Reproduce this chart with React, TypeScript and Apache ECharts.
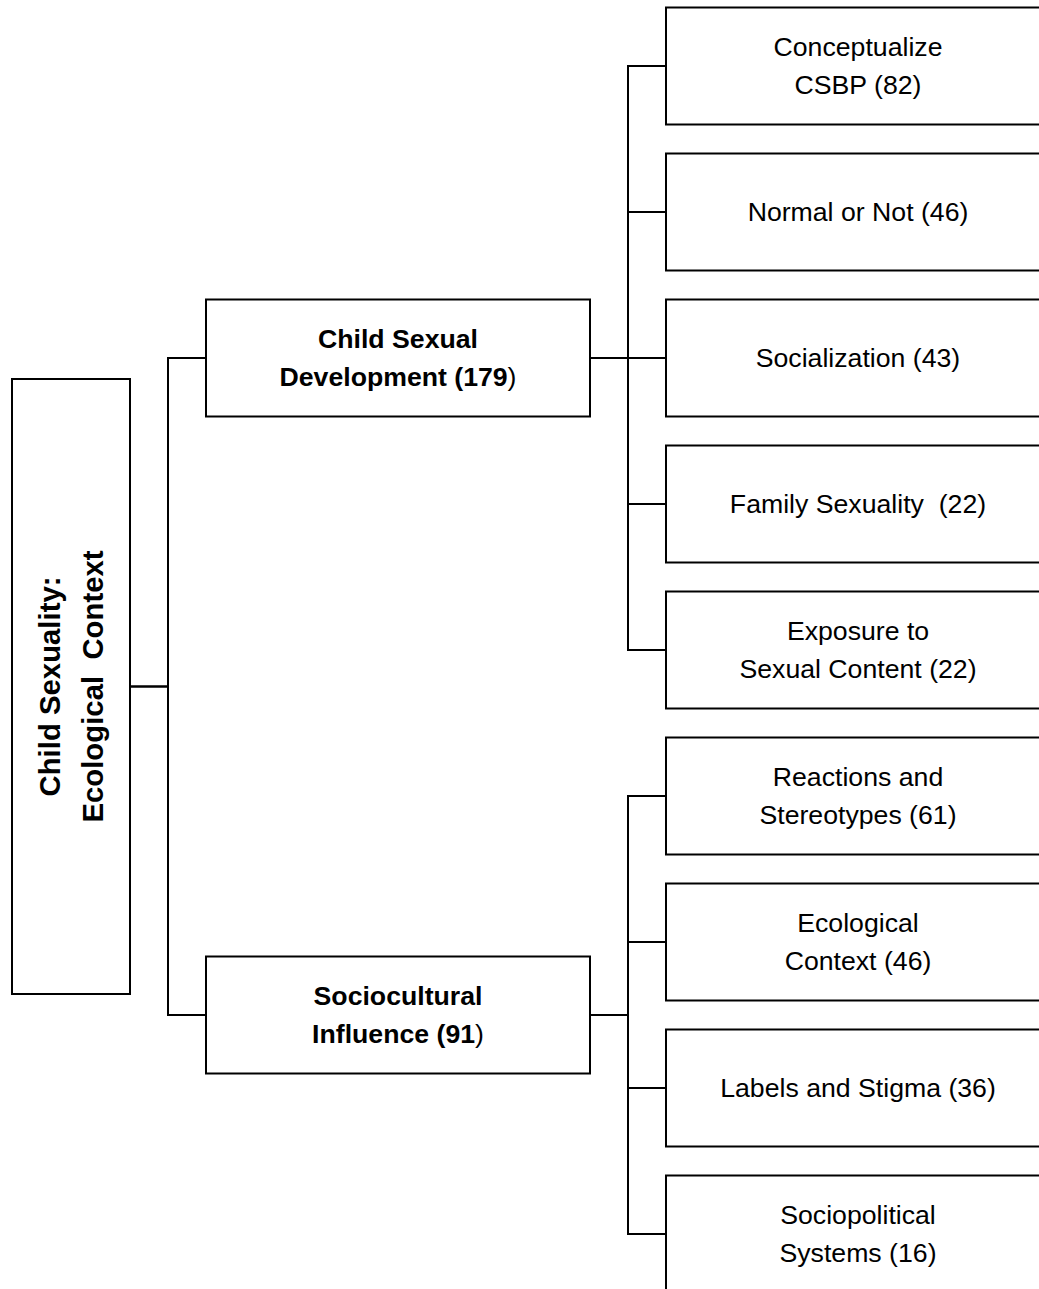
import React, { useEffect, useRef } from "react";
import * as echarts from "echarts";

// ---- data ----
const rootLabel = "Child Sexuality:\nEcological  Context";
const groupNames = ["Child Sexual\nDevelopment", "Sociocultural\nInfluence"];
const groupCounts = [179, 91];
const themeNames = [
  "Conceptualize\nCSBP",
  "Normal or Not",
  "Socialization",
  "Family Sexuality ",
  "Exposure to\nSexual Content",
  "Reactions and\nStereotypes",
  "Ecological\nContext",
  "Labels and Stigma",
  "Sociopolitical\nSystems",
];
const themeCounts = [82, 46, 43, 22, 22, 61, 46, 36, 16];
const themeGroup = [0, 0, 0, 0, 0, 1, 1, 1, 1];

// ---- layout (pixels / slot units) ----
const W = 1039;
const H = 1289;
const SLOT_PX = 146;
const FIRST_SLOT_Y = 66;
const levels = [
  { left: 12, right: 130, height: 615 },
  { left: 206, right: 590, height: 117 },
  { left: 666, right: 1050, height: 117 },
];
const FONT = '"Liberation Sans", Arial, Helvetica, sans-serif';
const FS = 26.67;
const ROOT_FS = 29.33;

type Node = {
  level: number;
  slot: number;
  text: string;
  parent: number;
};

function buildNodes(): Node[] {
  const nodes: Node[] = [];
  nodes.push({ level: 0, slot: 0, text: rootLabel, parent: -1 });
  const groupIdx: number[] = [];
  groupNames.forEach((g, gi) => {
    const lines = g.split("\n");
    const last = lines.pop();
    const txt =
      lines.map((l) => `{b|${l}}`).join("\n") +
      `\n{b|${last} (${groupCounts[gi]}}{r|)}`;
    groupIdx.push(nodes.length);
    nodes.push({ level: 1, slot: 0, text: txt, parent: 0 });
  });
  const childSlots: number[][] = groupNames.map(() => []);
  themeNames.forEach((t, i) => {
    const g = themeGroup[i];
    childSlots[g].push(i);
    nodes.push({
      level: 2,
      slot: i,
      text: `${t} (${themeCounts[i]})`,
      parent: groupIdx[g],
    });
  });
  groupIdx.forEach((ni, gi) => {
    const s = childSlots[gi];
    nodes[ni].slot = s.reduce((a, b) => a + b, 0) / s.length;
  });
  nodes[0].slot =
    groupIdx.reduce((a, ni) => a + nodes[ni].slot, 0) / groupIdx.length;
  return nodes;
}

export default function App() {
  const ref = useRef<HTMLDivElement>(null);
  useEffect(() => {
    document.body.style.margin = "0";
    const chart = echarts.init(ref.current!, undefined, { renderer: "svg" });
    const nodes = buildNodes();
    const lineStyle = { stroke: "#000", lineWidth: 2, fill: null };

    const option: any = {
      animation: false,
      backgroundColor: "#fff",
      grid: { left: 0, right: 0, top: 0, bottom: 0, containLabel: false },
      xAxis: { type: "value", min: 0, max: W, show: false },
      yAxis: {
        type: "value",
        inverse: true,
        min: -FIRST_SLOT_Y / SLOT_PX,
        max: (H - FIRST_SLOT_Y) / SLOT_PX,
        show: false,
      },
      series: [
        {
          type: "custom",
          coordinateSystem: "cartesian2d",
          clip: false,
          data: nodes.map((n, i) => [levels[n.level].left, n.slot, i]),
          renderItem: (params: any, api: any) => {
            const n = nodes[params.dataIndex];
            const L = levels[n.level];
            const p = api.coord([L.left, n.slot]);
            const pr = api.coord([L.right, n.slot]);
            const cy = p[1];
            const left = p[0];
            const right = pr[0];
            const children: any[] = [];
            if (n.parent >= 0) {
              const pn = nodes[n.parent];
              const PL = levels[pn.level];
              const pp = api.coord([PL.right, pn.slot]);
              const elbowX = (pp[0] + left) / 2;
              children.push({
                type: "polyline",
                shape: {
                  points: [
                    [pp[0], pp[1]],
                    [elbowX, pp[1]],
                    [elbowX, cy],
                    [left, cy],
                  ],
                },
                style: lineStyle,
              });
            }
            children.push({
              type: "rect",
              shape: {
                x: left,
                y: cy - L.height / 2,
                width: right - left,
                height: L.height,
              },
              style: { fill: "#fff", stroke: "#000", lineWidth: 2 },
            });
            const cx = (left + right) / 2;
            if (n.level === 0) {
              children.push({
                type: "text",
                x: cx,
                y: cy,
                rotation: Math.PI / 2,
                style: {
                  text: n.text,
                  fill: "#000",
                  font: `bold ${ROOT_FS}px ${FONT}`,
                  align: "center",
                  verticalAlign: "middle",
                  lineHeight: 43,
                },
              });
            } else if (n.level === 1) {
              children.push({
                type: "text",
                x: cx,
                y: cy,
                style: {
                  text: n.text,
                  fill: "#000",
                  align: "center",
                  verticalAlign: "middle",
                  lineHeight: 38,
                  rich: {
                    b: {
                      font: `bold ${FS}px ${FONT}`,
                      fill: "#000",
                      lineHeight: 38,
                    },
                    r: {
                      font: `${FS}px ${FONT}`,
                      fill: "#000",
                      lineHeight: 38,
                    },
                  },
                },
              });
            } else {
              children.push({
                type: "text",
                x: cx,
                y: cy,
                style: {
                  text: n.text,
                  fill: "#000",
                  font: `${FS}px ${FONT}`,
                  align: "center",
                  verticalAlign: "middle",
                  lineHeight: 38,
                },
              });
            }
            return { type: "group", children };
          },
        },
      ],
    };
    chart.setOption(option);
    return () => chart.dispose();
  }, []);
  return (
    <div
      ref={ref}
      style={{ position: "absolute", left: 0, top: 0, width: W, height: H }}
    />
  );
}
